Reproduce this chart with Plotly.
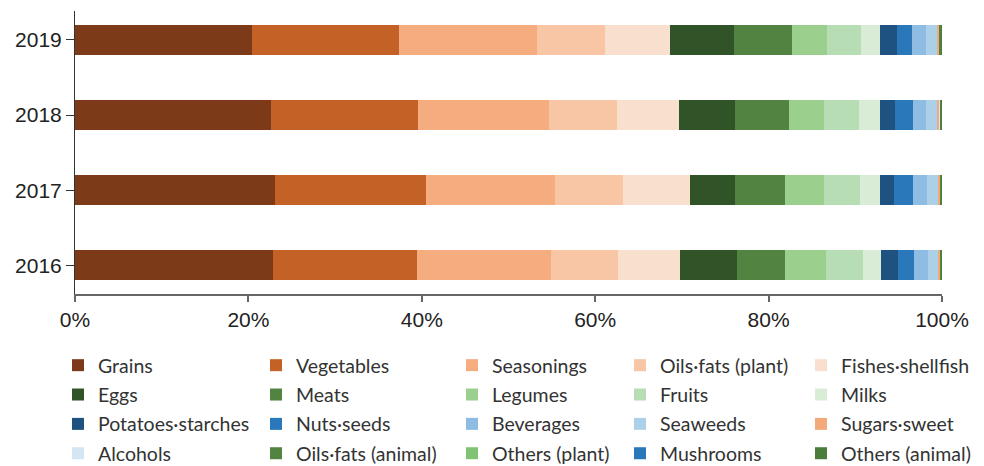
import plotly.graph_objects as go

years = ["2016", "2017", "2018", "2019"]

categories = [
    "Grains", "Vegetables", "Seasonings", "Oils·fats (plant)", "Fishes·shellfish",
    "Eggs", "Meats", "Legumes", "Fruits", "Milks",
    "Potatoes·starches", "Nuts·seeds", "Beverages", "Seaweeds", "Sugars·sweet",
    "Alcohols", "Oils·fats (animal)", "Others (plant)", "Mushrooms", "Others (animal)",
]

# shares (%) per year, order: 2016, 2017, 2018, 2019
grains = [22.85, 23.04, 22.58, 20.40]
vegetables = [16.61, 17.50, 17.00, 16.95]
seasonings = [15.43, 14.84, 15.08, 15.92]
oils_plant = [7.73, 7.78, 7.88, 7.85]
fishes = [7.19, 7.76, 7.12, 7.46]
eggs = [6.54, 5.23, 6.49, 7.42]
meats = [5.53, 5.73, 6.16, 6.70]
legumes = [4.77, 4.51, 4.08, 4.07]
fruits = [4.27, 4.15, 4.04, 3.89]
milks = [2.08, 2.27, 2.46, 2.23]
potatoes = [1.89, 1.69, 1.69, 1.92]
nuts = [1.85, 2.16, 2.08, 1.77]
beverages = [1.61, 1.61, 1.50, 1.58]
seaweeds = [1.19, 1.23, 1.30, 1.27]
sugars = [0.25, 0.30, 0.30, 0.23]
alcohols = [0.03, 0.06, 0.08, 0.04]
oils_animal = [0.12, 0.04, 0.06, 0.20]
others_plant = [0.02, 0.04, 0.04, 0.04]
mushrooms = [0.01, 0.02, 0.02, 0.02]
others_animal = [0.03, 0.04, 0.04, 0.04]

series = [grains, vegetables, seasonings, oils_plant, fishes,
          eggs, meats, legumes, fruits, milks,
          potatoes, nuts, beverages, seaweeds, sugars,
          alcohols, oils_animal, others_plant, mushrooms, others_animal]

colors = [
    "#7d3a19", "#c46127", "#f5ad80", "#f8c6a5", "#f9dfcd",
    "#305428", "#528340", "#9bcf8e", "#b7ddb4", "#d9ecd6",
    "#1e5280", "#2a78b9", "#8fbce2", "#acd0e8", "#f4a97a",
    "#d4e5f4", "#528340", "#80c473", "#2a78b9", "#4a7d3a",
]

x_ticks = [0, 20, 40, 60, 80, 100]
x_ticktext = ["0%", "20%", "40%", "60%", "80%", "100%"]

fig = go.Figure()
legend_ids = ["legend", "legend2", "legend3", "legend4", "legend5"]
for i, (name, vals, col) in enumerate(zip(categories, series, colors)):
    fig.add_trace(go.Bar(
        y=years, x=vals, name=name, orientation="h",
        marker=dict(color=col, line=dict(width=0)),
        width=0.4, legend=legend_ids[i % 5], legendgroup=name,
        hovertemplate="%{y}: %{x:.2f}%<extra>" + name + "</extra>",
    ))

# the page body adds an 8px offset, so the figure is 8px smaller each way
W, H = 976, 458
ml, mr, mt, mb = 67, 42, 3, 172
pw = W - ml - mr
ph = H - mt - mb

leg_left_px = [50, 248, 444, 612, 793]
leg_top_px = 338
legfont = dict(family="Lato, sans-serif", size=19.5, color="#333333")
for lid, lx in zip(legend_ids, leg_left_px):
    fig.update_layout({lid: dict(
        x=(lx - ml) / pw, y=1 - (leg_top_px - mt) / ph,
        xanchor="left", yanchor="top", orientation="v",
        font=legfont, bgcolor="rgba(0,0,0,0)", borderwidth=0,
        tracegroupgap=1, traceorder="grouped",
    )})

fig.update_layout(
    barmode="stack",
    width=W, height=H,
    margin=dict(l=ml, r=mr, t=mt, b=mb, autoexpand=False),
    paper_bgcolor="white", plot_bgcolor="white",
    font=dict(family="Liberation Sans, Arial, sans-serif", size=21, color="#222222"),
    xaxis=dict(
        range=[0, 100], tickvals=x_ticks, ticktext=x_ticktext,
        showgrid=False, zeroline=False, showline=True, linecolor="#666666", linewidth=1.5,
        ticks="outside", ticklen=6, tickcolor="#666666", tickwidth=1.5,
        tickfont=dict(family="Liberation Sans, Arial, sans-serif", size=21, color="#222222"),
        fixedrange=True,
    ),
    yaxis=dict(
        type="category", categoryorder="array", categoryarray=years,
        range=[-0.383, 3.386],
        showgrid=False, zeroline=False, showline=True, linecolor="#333333", linewidth=1,
        ticks="outside", ticklen=8, tickcolor="#333333",
        tickfont=dict(family="Liberation Sans, Arial, sans-serif", size=21, color="#222222"),
        fixedrange=True,
    ),
)

fig.write_html("out.html")
